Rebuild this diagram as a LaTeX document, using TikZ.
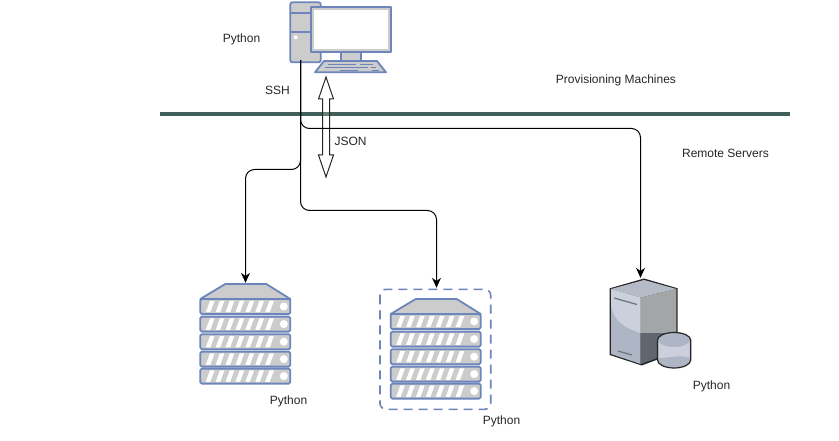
\documentclass[tikz,border=0pt]{standalone}
\usepackage{fontspec}
\setmainfont{Liberation Sans}
\usetikzlibrary{arrows.meta}
\definecolor{iconblue}{HTML}{6C86BC}
\definecolor{icongray}{HTML}{CCCCCC}
\definecolor{barline}{HTML}{3F5F58}
\definecolor{HTML1}{HTML}{AEB6C6}
\definecolor{HTML2}{HTML}{CBD0DC}
\definecolor{HTML3}{HTML}{A2A6A6}
\definecolor{HTML4}{HTML}{5F666E}
\definecolor{HTML5}{HTML}{B4BAC6}
\definecolor{HTML6}{HTML}{6E7680}
\tikzset{
  lbl/.style={font=\fontsize{12}{14}\selectfont,inner sep=0pt,text=black!85},
  icon/.style={draw=iconblue,fill=icongray,line width=1.8pt,line join=round},
  conn/.style={draw=black,line width=1pt,rounded corners=9pt,-{Stealth[length=10pt,width=9pt]}},
  pinpoint/.style={inner sep=0pt,minimum size=0pt},
  slab/.pic={
    \draw[icon,rounded corners=1.5pt] (0,0) rectangle (90,15);
    \foreach \i in {0,...,6}{
      \fill[white] (5.5+9.9*\i,13.2) -- (10+9.9*\i,13.2) -- (14.2+9.9*\i,1.8) -- (9.7+9.9*\i,1.8) -- cycle;
    }
    \fill[white] (83.5,7.5) circle (4);
  },
  rack/.pic={
    \draw[icon] (0,15) -- (25,0) -- (66,0) -- (90,15) -- cycle;
    \foreach \j in {0,17.6,35.2,52.6,69.6}{
      \pic at (0,15+\j) {slab};
    }
  }
}
\begin{document}
\begin{tikzpicture}[x=1pt,y=-1pt]
\useasboundingbox (0,0) rectangle (839,441);
\fill[white] (0,0) rectangle (839,441);

% divider
\node[pinpoint] (barL) at (160,114.4) {};
\node[pinpoint] (barR) at (790,114.4) {};
\draw[barline,line width=4pt] (barL) -- (barR);

% workstation
\draw[icon,rounded corners=2pt] (290.3,2.3) rectangle (320.7,62.3);
\draw[iconblue,line width=1.8pt] (290.3,12.7) -- (320.7,12.7) (290.3,32.3) -- (320.7,32.3);
\fill[white] (295.7,37.3) circle (2);
\draw[icon] (340.7,52) rectangle (360.7,61);
\draw[icon] (324,61) -- (377,61) -- (386,72.3) -- (315,72.3) -- cycle;
\draw[iconblue,line width=1.3pt] (328,64.5) -- (356,64.5) (360,64.5) -- (373,64.5)
  (325,67.8) -- (368,67.8) (371,67.8) -- (376,67.8)
  (340,70.4) -- (358,70.4) (372,70.4) -- (379,70.4);
\draw[icon,fill=icongray] (310.7,6.7) rectangle (390.7,52.3);
\fill[white] (314,10) rectangle (388,49.3);
\node[pinpoint] (pc) at (300.5,60) {};

% double arrow
\draw[draw=black!85,fill=white,line width=1pt,line join=miter]
  (326,77) -- (333.5,99) -- (329.5,99) -- (329.5,155) -- (333.5,155) -- (326,177)
  -- (318.5,155) -- (322.5,155) -- (322.5,99) -- (318.5,99) -- cycle;
\fill[barline,opacity=.8] (323,112.4) rectangle (329,116.4);

% left rack
\pic at (200.3,284) {rack};
\node[pinpoint] (rackA) at (245.5,283) {};

% dashed rack
\pic at (390.7,299) {rack};
\draw[iconblue,line width=1.6pt,dash pattern=on 9pt off 6pt,rounded corners=6pt]
  (380,289.3) rectangle (490.7,409.3);
\node[pinpoint] (rackB) at (436.5,288) {};

% database server
\begin{scope}[line width=1pt,line join=round]
\fill[black!85] (644,278.5) -- (677.7,288.3) -- (677.7,352) -- (641.7,365.5) -- (609.7,355) -- (609.7,288.3) -- cycle;
\fill[HTML1] (611,289) -- (640.7,297.5) -- (640.7,364) -- (611,354) -- cycle;
\fill[HTML2] (611,289) -- (640.7,297.5) -- (640.7,333) .. controls (625,328) and (614,322) .. (611,305) -- cycle;
\fill[HTML3] (640.7,297.5) -- (676.4,289) -- (676.4,333) -- (640.7,333) -- cycle;
\fill[HTML4] (640.7,333) -- (676.4,333) -- (676.4,351) -- (640.7,364) -- cycle;
\fill[HTML5] (611,289) -- (644,280) -- (676.4,289) -- (640.7,297.5) -- cycle;
\draw[HTML6,line width=1.3pt] (614,298) -- (637,304.5) (618,351) -- (632,355);
\fill[HTML1,draw=black!85,line width=1.2pt] (657.5,340) arc[start angle=180,end angle=360,x radius=16.6,y radius=7.5] -- (690.7,360)
  arc[start angle=0,end angle=180,x radius=16.6,y radius=8] -- cycle;
\fill[HTML2] (658.5,342) .. controls (665,349) and (683,349) .. (689.7,342) -- (689.7,358) .. controls (682,354) and (668,358) .. (658.5,358) -- cycle;
\end{scope}
\node[pinpoint] (dbsrv) at (640.5,278) {};

% connectors
\draw[conn] (pc) -- (300.5,128.5) -- (640.5,128.5) -- (dbsrv);
\draw[conn] (pc) -- (300.5,169.5) -- (245.5,169.5) -- (rackA);
\draw[conn] (pc) -- (300.5,210.5) -- (436.5,210.5) -- (rackB);

% labels
\node[lbl] (t1) at (241.5,39.2) {Python};
\node[lbl] (t2) at (277.5,90) {SSH};
\node[lbl] (t3) at (616,80) {Provisioning Machines};
\node[lbl] (t4) at (350.5,141.6) {JSON};
\node[lbl] (t5) at (725.5,153.6) {Remote Servers};
\node[lbl] (t6) at (288.5,401.2) {Python};
\node[lbl] (t7) at (501.5,421.2) {Python};
\node[lbl] (t8) at (711.5,386.2) {Python};
\end{tikzpicture}
\end{document}
